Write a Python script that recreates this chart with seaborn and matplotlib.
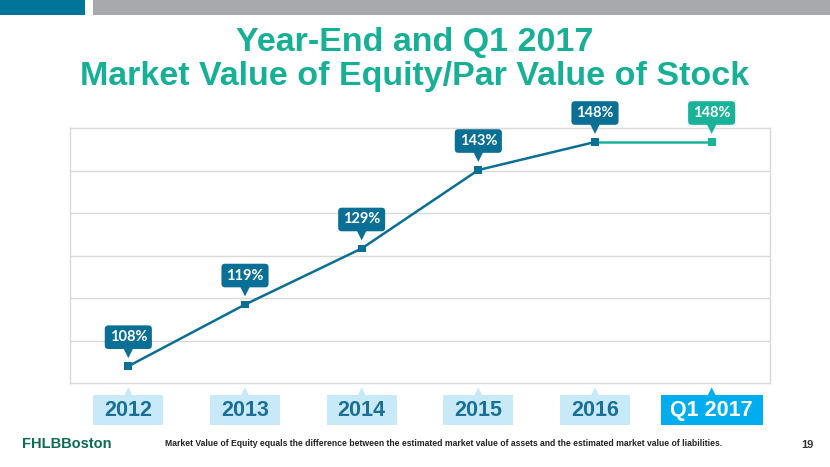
import numpy as np
import pandas as pd
import matplotlib
matplotlib.use("Agg")
import matplotlib.pyplot as plt
import matplotlib.transforms as mtransforms
from matplotlib.patches import Rectangle
import seaborn as sns

# ---- data ----
categories = ["2012", "2013", "2014", "2015", "2016", "Q1 2017"]
values = [108, 119, 129, 143, 148, 148]
value_labels = ["108%", "119%", "129%", "143%", "148%", "148%"]

DARK = "#0a6f95"
TEAL = "#1ab399"
LIGHTBOX = "#c7e9f8"
BRIGHT = "#00aeef"
TITLE = "#17b096"

sns.set_theme(style="white")
plt.rcParams['font.family'] = ['Lato', 'DejaVu Sans']

fig = plt.figure(figsize=(8.3, 4.67), dpi=100)
ax = fig.add_axes([70/830, 1-383/467, 700/830, 255/467])

pos = list(range(len(categories)))
df = pd.DataFrame({
    "pos": pos[:5] + pos[4:],
    "val": values[:5] + values[4:],
    "seg": ["a"] * 5 + ["b"] * 2,
})
sns.lineplot(data=df, x="pos", y="val", hue="seg", palette={"a": DARK, "b": TEAL},
             ax=ax, legend=False, linewidth=1.8, zorder=3)
mcolors = [DARK] * 5 + [TEAL]
sns.scatterplot(x=pos, y=values, hue=categories, palette=dict(zip(categories, mcolors)),
                marker="s", s=32, edgecolor="none", legend=False, ax=ax, zorder=4)

ax.set_xlim(-0.5, 5.5)
ax.set_ylim(105, 150.5)
ax.set_yticks(np.linspace(105, 150.5, 7)[1:-1])
ax.set_yticklabels([])
ax.tick_params(axis="y", length=0)
ax.grid(axis="y", color="#d9d9d9", linewidth=1)
for s in ax.spines.values():
    s.set_color("#d9d9d9")
    s.set_linewidth(1)
ax.set_xlabel("")
ax.set_ylabel("")

# callouts
px = 72 / 100  # points per pixel
for i, (v, lab) in enumerate(zip(values, value_labels)):
    c = mcolors[i]
    ax.annotate(lab, xy=(i, v), xytext=(0, 29 * px), textcoords="offset points",
                ha="center", va="center", color="white", fontsize=10.5, fontweight="bold",
                bbox=dict(boxstyle="round,pad=0.33,rounding_size=0.25", fc=c, ec="none"),
                zorder=6)
    tr = ax.transData + mtransforms.ScaledTranslation(0, 13.5 / 100, fig.dpi_scale_trans)
    ax.scatter([i], [v], marker="v", s=60, color=c, transform=tr, zorder=5,
               edgecolors="none", clip_on=False)

# x tick labels with boxes
ax.set_xticks(pos)
ax.set_xticklabels(categories)
ax.tick_params(axis="x", length=0, pad=19.5)
xt = ax.get_xaxis_transform()
unit_px = 700 / 6.0
for i, t in enumerate(ax.get_xticklabels()):
    last = i == len(categories) - 1
    t.set_fontfamily(['Liberation Sans', 'DejaVu Sans'])
    t.set_fontsize(15.5)
    t.set_fontweight("bold")
    t.set_va("center")
    t.set_color("white" if last else "#1b6f97")
    fc = BRIGHT if last else LIGHTBOX
    w = (102 if last else 70) / unit_px
    y0 = -(425 - 383) / 255
    h = 30 / 255
    ax.add_patch(Rectangle((i - w / 2, y0), w, h, transform=xt, fc=fc, ec="none",
                           clip_on=False, zorder=0))
    tr = xt + mtransforms.ScaledTranslation(0, -9.5 / 100, fig.dpi_scale_trans)
    ax.scatter([i], [0], marker="^", s=55, color=fc,
               transform=tr, clip_on=False, edgecolors="none", zorder=0)

# header bars
fig.patches.append(Rectangle((0, 1 - 15/467), 85/830, 15/467, transform=fig.transFigure,
                             fc="#00759a", ec="none"))
fig.patches.append(Rectangle((93/830, 1 - 15/467), 737/830, 15/467, transform=fig.transFigure,
                             fc="#a7a9ac", ec="none"))

fig.text(0.5, 1 - 43/467, "Year-End and Q1 2017", ha="center", va="center",
         fontsize=24.5, fontweight="bold", color=TITLE,
         fontfamily=['Liberation Sans', 'DejaVu Sans'])
fig.text(0.5, 1 - 77/467, "Market Value of Equity/Par Value of Stock", ha="center", va="center",
         fontsize=24.5, fontweight="bold", color=TITLE,
         fontfamily=['Liberation Sans', 'DejaVu Sans'])

fig.text(22/830, 1 - 444/467, "FHLBBoston", ha="left", va="center", fontsize=10.5,
         fontweight="bold", color="#0b6b55",
         fontfamily=['Liberation Sans', 'DejaVu Sans'])
fig.text(165/830, 1 - 443/467,
         "Market Value of Equity equals the difference between the estimated market value of assets and the estimated market value of liabilities.",
         ha="left", va="center", fontsize=6.2, fontweight="bold", color="#222222",
         fontfamily=['Liberation Sans', 'DejaVu Sans'])
fig.text(807/830, 1 - 445/467, "19", ha="center", va="center", fontsize=8,
         fontweight="bold", color="#333333",
         fontfamily=['Liberation Sans', 'DejaVu Sans'])

fig.savefig("out.png", dpi=100, facecolor="white")
